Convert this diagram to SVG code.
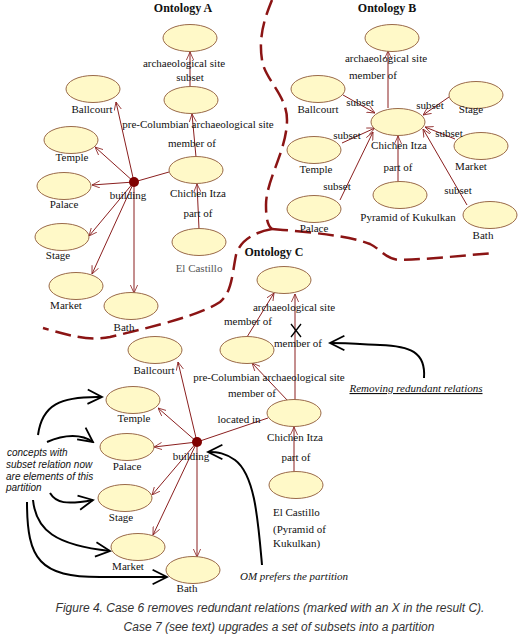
<svg xmlns="http://www.w3.org/2000/svg" width="526" height="640" viewBox="0 0 526 640">
<style>
.n{fill:#fff9c8;stroke:#9a6a4a;stroke-width:1}
.t{font-family:"Liberation Serif",serif;font-size:11px;fill:#111;text-anchor:middle}
.ttl{font-family:"Liberation Serif",serif;font-size:12px;font-weight:bold;fill:#111;text-anchor:middle}
.e{stroke:#8a1f1f;stroke-width:1;fill:none}
.ea{stroke:#8a1f1f;stroke-width:1;fill:none;marker-end:url(#arr)}
.div{stroke:#8b1414;stroke-width:2.5;fill:none;stroke-dasharray:16 7}
.hand{stroke:#000;stroke-width:2;fill:none;marker-end:url(#harr)}
.it{font-family:"Liberation Serif",serif;font-style:italic;font-size:11px;fill:#111}
.note{font-family:"Liberation Sans",sans-serif;font-style:italic;font-size:10px;fill:#111}
.cap{font-family:"Liberation Sans",sans-serif;font-style:italic;font-size:12px;fill:#333;text-anchor:middle}
.dot{fill:#800000}
</style>
<defs>
<marker id="arr" viewBox="0 0 10 10" refX="10" refY="5" markerWidth="8" markerHeight="8" markerUnits="userSpaceOnUse" orient="auto">
<path d="M0,0.5 L10,5 L0,9.5" fill="none" stroke="#8a1f1f" stroke-width="1"/>
</marker>
<marker id="harr" viewBox="0 0 20 20" refX="18" refY="10" markerWidth="18" markerHeight="18" markerUnits="userSpaceOnUse" orient="auto">
<path d="M2,2 L18,10 L2,18" fill="none" stroke="#000" stroke-width="2"/>
</marker>
</defs>

<g id="dividers">
<path class="div" d="M272,0 C266,15 258,35 262,60 C265,80 287,95 287,120 C287,150 266,180 266,205 C266,220 268,226 272,229"/>
<path class="div" d="M272,229 C310,232 350,236 370,244 C382,250 385,259 400,260 C430,259 460,256 493,253"/>
<path class="div" d="M272,229 C255,232 240,240 236,255 C232,275 232,292 220,302 C200,315 160,325 110,337 C90,341 70,336 43,328"/>
</g>

<g id="connectors">
<!-- Ontology A -->
<path class="ea" d="M190,87 L190,52"/>
<path class="ea" d="M196,157 L192,114"/>
<path class="ea" d="M199,229 L197,184"/>
<path class="e" d="M134,182 L169,172"/>
<path class="ea" d="M134,182 L116,102"/>
<path class="ea" d="M134,182 L95,147"/>
<path class="ea" d="M134,182 L92,185"/>
<path class="ea" d="M134,182 L89,236"/>
<path class="ea" d="M134,182 L92,274"/>
<path class="ea" d="M134,182 L134,293"/>
<!-- Ontology B -->
<path class="ea" d="M388,108 L388,51"/>
<path class="ea" d="M343,95 L375,113"/>
<path class="ea" d="M449,97 L423,115"/>
<path class="ea" d="M342,143 L375,128"/>
<path class="ea" d="M455,139 L425,127"/>
<path class="ea" d="M340,200 L373,132"/>
<path class="ea" d="M398,182 L398,136"/>
<path class="ea" d="M467,205 L423,129"/>
<!-- Ontology C -->
<path class="ea" d="M247,337 L274,293"/>
<path class="ea" d="M295,400 L295,294"/>
<path class="ea" d="M288,401 L252,363"/>
<path class="ea" d="M294,472 L294,427"/>
<path class="e" d="M197,442 L268,418"/>
<path class="ea" d="M197,442 L178,362"/>
<path class="ea" d="M197,442 L158,408"/>
<path class="ea" d="M197,442 L154,447"/>
<path class="ea" d="M197,442 L152,495"/>
<path class="ea" d="M197,442 L153,535"/>
<path class="ea" d="M197,442 L197,557"/>
<!-- X mark -->
<path d="M291,324 L301,337 M301,324 L291,337" stroke="#000" stroke-width="1.3" fill="none"/>
<!-- hand-drawn arrows -->
<path class="hand" d="M424,378 C426,352 410,346 380,345 C360,344 345,343 330,343"/>
<path class="hand" d="M262,565 C258,520 255,475 235,460 C225,453 218,452 208,452"/>
<path class="hand" d="M38,435 C42,405 60,396 102,397"/>
<path class="hand" d="M47,442 C65,434 82,434 93,442"/>
<path class="hand" d="M50,493 C56,503 66,505 93,500"/>
<path class="hand" d="M33,500 C36,530 55,545 110,551"/>
<path class="hand" d="M27,502 C27,560 40,577 100,577 L167,577"/>
</g>

<g id="ontologyA">
<text class="ttl" x="183" y="12">Ontology A</text>
<g id="A_arch"><ellipse class="n" cx="190" cy="38" rx="27" ry="13.5"/><text class="t" x="184" y="67">archaeological site</text></g>
<text class="t" x="190" y="81">subset</text>
<g id="A_pre"><ellipse class="n" cx="191" cy="100" rx="27" ry="13.5"/><text class="t" x="198" y="128">pre-Columbian archaeological site</text></g>
<text class="t" x="192" y="147">member of</text>
<g id="A_chi"><ellipse class="n" cx="196" cy="170" rx="27" ry="13.5"/><text class="t" x="198" y="197">Chichen Itza</text></g>
<text class="t" x="198" y="217">part of</text>
<g id="A_cas"><ellipse class="n" cx="199" cy="242" rx="27" ry="13.5"/><text class="t" x="199" y="272" style="fill:#555">El Castillo</text></g>
<g id="A_building"><circle class="dot" cx="134" cy="182" r="5"/><text class="t" x="128" y="199">building</text></g>
<g id="A_ball"><ellipse class="n" cx="93" cy="89" rx="27" ry="13.5"/><text class="t" x="92" y="113">Ballcourt</text></g>
<g id="A_temple"><ellipse class="n" cx="71" cy="140" rx="27" ry="13.5"/><text class="t" x="72" y="161">Temple</text></g>
<g id="A_palace"><ellipse class="n" cx="64" cy="186" rx="27" ry="13.5"/><text class="t" x="64" y="208">Palace</text></g>
<g id="A_stage"><ellipse class="n" cx="62" cy="237" rx="27" ry="13.5"/><text class="t" x="58" y="259">Stage</text></g>
<g id="A_market"><ellipse class="n" cx="76" cy="286" rx="27" ry="13.5"/><text class="t" x="66" y="309">Market</text></g>
<g id="A_bath"><ellipse class="n" cx="131" cy="306" rx="27" ry="13.5"/><text class="t" x="124" y="331">Bath</text></g>
</g>

<g id="ontologyB">
<text class="ttl" x="387" y="12">Ontology B</text>
<g id="B_arch"><ellipse class="n" cx="392" cy="38" rx="27" ry="13.5"/><text class="t" x="386" y="62">archaeological site</text></g>
<text class="t" x="373" y="79">member of</text>
<g id="B_chi"><ellipse class="n" cx="398" cy="122" rx="27" ry="13.5"/><text class="t" x="399" y="149">Chichen Itza</text></g>
<g id="B_ball"><ellipse class="n" cx="318" cy="89" rx="27" ry="13.5"/><text class="t" x="318" y="113">Ballcourt</text></g>
<text class="t" x="360" y="106">subset</text>
<g id="B_stage"><ellipse class="n" cx="476" cy="95" rx="27" ry="13.5"/><text class="t" x="471" y="113">Stage</text></g>
<text class="t" x="430" y="109">subset</text>
<g id="B_temple"><ellipse class="n" cx="314" cy="150" rx="27" ry="13.5"/><text class="t" x="316" y="173">Temple</text></g>
<text class="t" x="347" y="139">subset</text>
<g id="B_market"><ellipse class="n" cx="481" cy="146" rx="27" ry="13.5"/><text class="t" x="471" y="170">Market</text></g>
<text class="t" x="449" y="137">subset</text>
<g id="B_palace"><ellipse class="n" cx="314" cy="209" rx="27" ry="13.5"/><text class="t" x="314" y="232">Palace</text></g>
<text class="t" x="337" y="190">subset</text>
<g id="B_pyr"><ellipse class="n" cx="400" cy="195" rx="27" ry="13.5"/><text class="t" x="408" y="221">Pyramid of Kukulkan</text></g>
<text class="t" x="398" y="171">part of</text>
<g id="B_bath"><ellipse class="n" cx="490" cy="215" rx="27" ry="13.5"/><text class="t" x="483" y="239">Bath</text></g>
<text class="t" x="458" y="194">subset</text>
</g>

<g id="ontologyC">
<text class="ttl" x="274" y="256">Ontology C</text>
<g id="C_arch"><ellipse class="n" cx="284" cy="280" rx="27" ry="13.5"/><text class="t" x="294" y="311">archaeological site</text></g>
<text class="t" x="248" y="325">member of</text>
<text class="t" x="298" y="347">member of</text>
<g id="C_pre"><ellipse class="n" cx="247" cy="350" rx="27" ry="13.5"/><text class="t" x="269" y="381">pre-Columbian archaeological site</text></g>
<text class="t" x="252" y="397">member of</text>
<g id="C_chi"><ellipse class="n" cx="294" cy="413" rx="27" ry="13.5"/><text class="t" x="295" y="441">Chichen Itza</text></g>
<text class="t" x="239" y="423">located in</text>
<text class="t" x="296" y="461">part of</text>
<g id="C_cas"><ellipse class="n" cx="296" cy="485" rx="27" ry="13.5"/>
<text class="t" x="273" y="516" style="text-anchor:start">El Castillo</text>
<text class="t" x="273" y="533" style="text-anchor:start">(Pyramid of</text>
<text class="t" x="273" y="547" style="text-anchor:start">Kukulkan)</text></g>
<g id="C_building"><circle class="dot" cx="197" cy="442" r="5"/><text class="t" x="191" y="460">building</text></g>
<g id="C_ball"><ellipse class="n" cx="155" cy="350" rx="27" ry="13.5"/><text class="t" x="154" y="374">Ballcourt</text></g>
<g id="C_temple"><ellipse class="n" cx="133" cy="400" rx="27" ry="13.5"/><text class="t" x="134" y="422">Temple</text></g>
<g id="C_palace"><ellipse class="n" cx="127" cy="447" rx="27" ry="13.5"/><text class="t" x="127" y="470">Palace</text></g>
<g id="C_stage"><ellipse class="n" cx="125" cy="498" rx="27" ry="13.5"/><text class="t" x="121" y="521">Stage</text></g>
<g id="C_market"><ellipse class="n" cx="138" cy="547" rx="27" ry="13.5"/><text class="t" x="128" y="570">Market</text></g>
<g id="C_bath"><ellipse class="n" cx="193" cy="570" rx="27" ry="13.5"/><text class="t" x="187" y="592">Bath</text></g>
</g>

<g id="notes">
<text class="it" x="416" y="392" text-anchor="middle" text-decoration="underline">Removing redundant relations</text>
<text class="it" x="240" y="580">OM prefers the partition</text>
<text class="note" x="7" y="456">concepts with</text>
<text class="note" x="6" y="468">subset relation now</text>
<text class="note" x="6" y="480">are elements of this</text>
<text class="note" x="6" y="491">partition</text>
</g>

<g id="caption">
<text class="cap" x="270" y="612">Figure 4. Case 6 removes redundant relations (marked with an X in the result C).</text>
<text class="cap" x="279" y="631">Case 7 (see text) upgrades a set of subsets into a partition</text>
</g>
</svg>
